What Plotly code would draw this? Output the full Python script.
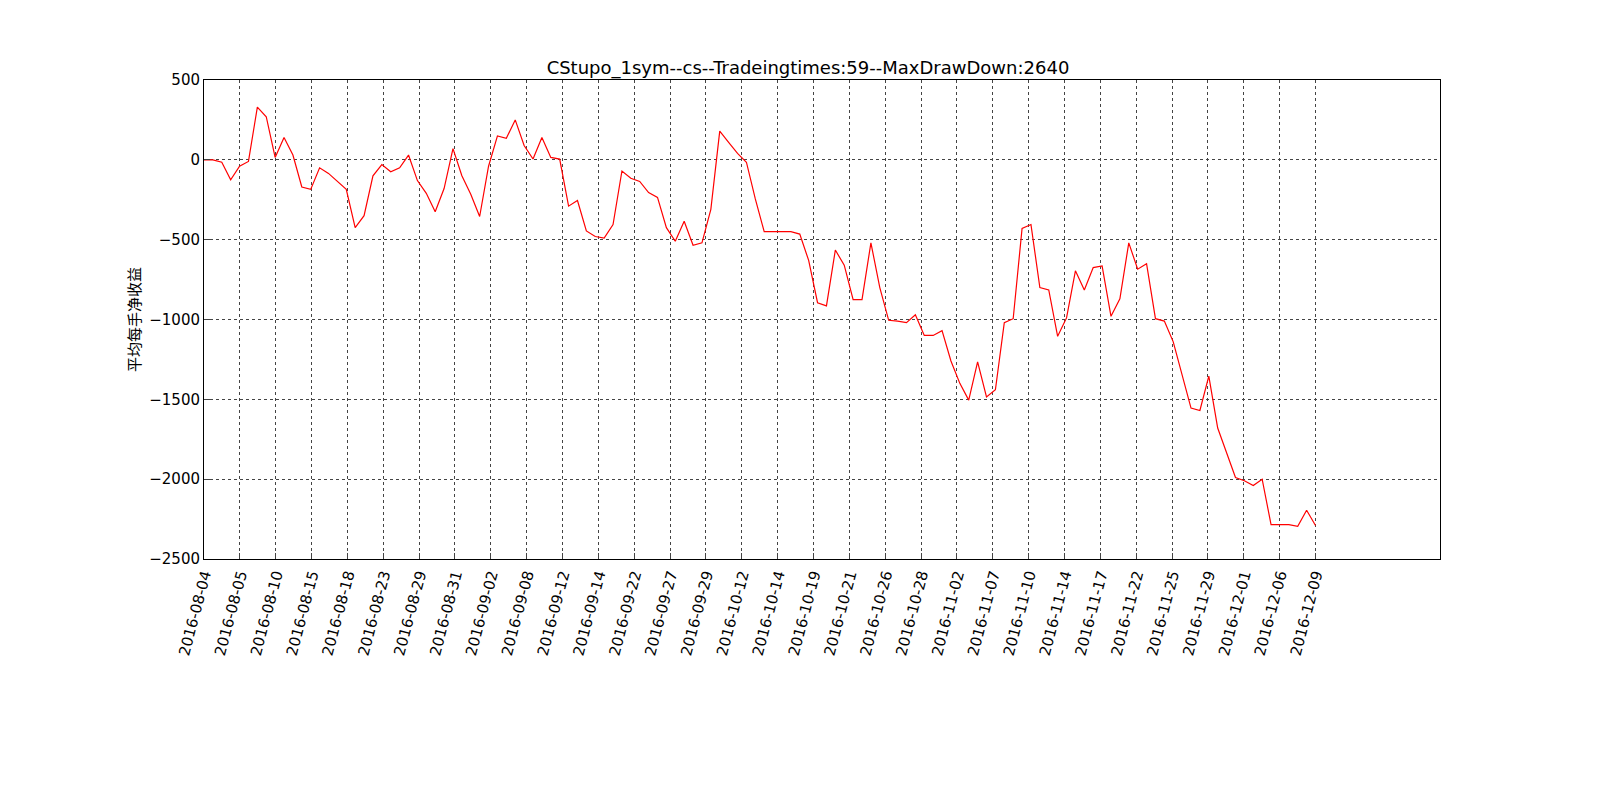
import plotly.graph_objects as go

dates = ["2016-08-04","2016-08-05","2016-08-10","2016-08-15","2016-08-18","2016-08-23","2016-08-29","2016-08-31",
         "2016-09-02","2016-09-08","2016-09-12","2016-09-14","2016-09-22","2016-09-27","2016-09-29","2016-10-12",
         "2016-10-14","2016-10-19","2016-10-21","2016-10-26","2016-10-28","2016-11-02","2016-11-07","2016-11-10",
         "2016-11-14","2016-11-17","2016-11-22","2016-11-25","2016-11-29","2016-12-01","2016-12-06","2016-12-09"]
values = [0,0,-15,-125,-40,-10,330,270,15,140,30,-170,-185,-50,-85,-135,-185,-425,-350,-100,
          -30,-75,-50,30,-130,-210,-325,-180,70,-100,-215,-355,-40,150,135,250,90,5,140,15,
          5,-290,-255,-445,-480,-490,-405,-70,-115,-135,-205,-235,-425,-510,-385,-535,-520,-310,180,110,
          40,-15,-245,-450,-450,-450,-450,-465,-630,-895,-915,-565,-660,-875,-875,-520,-800,-1005,-1010,-1020,
          -970,-1100,-1100,-1070,-1260,-1400,-1505,-1265,-1485,-1440,-1020,-995,-430,-405,-800,-815,-1105,-990,-695,-815,
          -675,-665,-980,-870,-520,-685,-650,-995,-1010,-1140,-1340,-1555,-1570,-1355,-1680,-1830,-1990,-2010,-2040,-2000,
          -2285,-2285,-2285,-2295,-2195,-2290]
x = list(range(len(values)))
tickvals = [i * (len(values) - 1) / (len(dates) - 1) for i in range(len(dates))]

fig = go.Figure(go.Scatter(x=x, y=values, mode="lines", line=dict(color="red", width=1.2)))
ax = dict(showline=True, linecolor="black", linewidth=1, mirror=True, ticks="inside", ticklen=6,
          showgrid=True, gridcolor="#444444", griddash="dot", gridwidth=0.7, zeroline=False,
          tickfont=dict(size=15, color="black"))
fig.update_xaxes(**ax, range=[0, 139], tickvals=tickvals, ticktext=dates, tickangle=-75)
fig.update_yaxes(**ax, range=[-2500, 500], tickvals=list(range(-2500, 501, 500)),
                 ticktext=[str(v).replace("-", "\u2212") for v in range(-2500, 501, 500)],
                 title=dict(text="平均每手净收益", font=dict(size=15, family="Noto Sans CJK SC", color="black"), standoff=5))
fig.update_layout(width=1600, height=800, paper_bgcolor="white", plot_bgcolor="white",
                  margin=dict(l=196, r=168, t=72, b=249), showlegend=False,
                  font=dict(family="DejaVu Sans", color="black"),
                  title=dict(text="CStupo_1sym--cs--Tradeingtimes:59--MaxDrawDown:2640", x=0.5, xanchor="center",
                             y=1 - 60/800, yanchor="middle", font=dict(size=18, color="black")))
fig.write_html("out.html")
